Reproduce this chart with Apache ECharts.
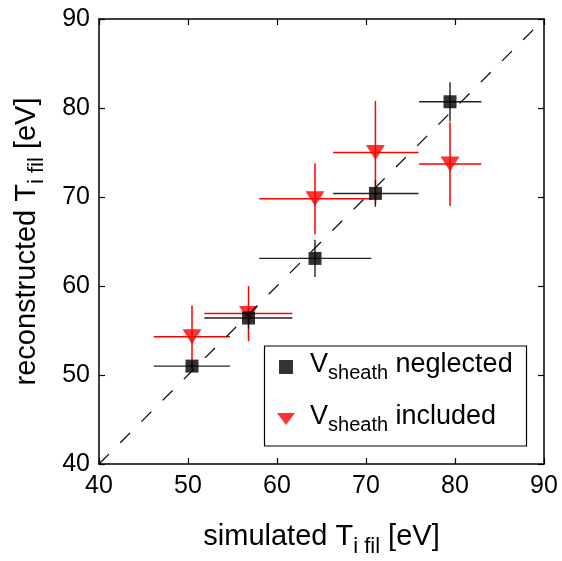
<!DOCTYPE html>
<html><head><meta charset="utf-8">
<script src="https://cdn.jsdelivr.net/npm/echarts@6/dist/echarts.min.js"></script>
<style>html,body{margin:0;padding:0;background:#fff}#c{width:562px;height:561px}</style>
</head><body><div id="c"></div>
<script>
// simulated T_i fil (x) with horizontal error range
const simT     = [50.45, 56.8, 64.27, 71.06, 79.44];
const simTLow  = [46.15, 51.84, 58.0, 66.3, 75.96];
const simTHigh = [54.72, 61.73, 70.6, 75.9, 82.96];
// reconstructed, V_sheath neglected
const neglectedT   = [51.0, 56.4, 63.1, 70.4, 80.7];
const neglectedErr = [0.4, 1.2, 2.1, 1.5, 2.2];
// reconstructed, V_sheath included
const includedT   = [54.3, 56.9, 69.8, 75.0, 73.7];
const includedErr = [3.5, 3.1, 4.0, 5.8, 4.7];
// axes
const axisMin = 40, axisMax = 90, axisStep = 10;
const diagonal = [[40, 40], [90, 90]];

const FONT = "'Liberation Sans', Arial, Helvetica, sans-serif";

function errData(ys, errs) {
  return simT.map((x, i) => [x, ys[i], simTLow[i], simTHigh[i], ys[i] - errs[i], ys[i] + errs[i]]);
}
function errRender(color, width) {
  return function (params, api) {
    const x = api.value(0), y = api.value(1);
    const p1 = api.coord([api.value(2), y]), p2 = api.coord([api.value(3), y]);
    const p3 = api.coord([x, api.value(4)]), p4 = api.coord([x, api.value(5)]);
    const style = { stroke: color, lineWidth: width };
    return { type: 'group', children: [
      { type: 'line', shape: { x1: p1[0], y1: p1[1], x2: p2[0], y2: p2[1] }, style: style },
      { type: 'line', shape: { x1: p3[0], y1: p3[1], x2: p4[0], y2: p4[1] }, style: style }
    ]};
  };
}
const TRI = 'path://M0,0L20,0L10,16Z';
const SQR = 'path://M0,0L10,0L10,10L0,10Z';
const LEG_SQR = 'path://M0,0M18,14M2,0L16,0L16,14L2,14Z';
const LEG_TRI = 'path://M0,0M18,14M0,1L18,1L9,13Z';

const richNameX = {
  a: { fontSize: 29, fontFamily: FONT, color: '#000', lineHeight: 36, verticalAlign: 'top' },
  b: { fontSize: 22, fontFamily: FONT, color: '#000', lineHeight: 22, padding: [31, 0, 0, 0], verticalAlign: 'bottom' }
};
const richNameY = {
  a: { fontSize: 29, fontFamily: FONT, color: '#000', lineHeight: 36, verticalAlign: 'top' },
  b: { fontSize: 22, fontFamily: FONT, color: '#000', lineHeight: 22, padding: [26, 0, 0, 0], verticalAlign: 'bottom' }
};
const richLegend = {
  g: { width: 10, fontSize: 12 },
  v: { fontSize: 27, fontFamily: FONT, color: '#000', lineHeight: 32, verticalAlign: 'top' },
  s: { fontSize: 20, fontFamily: FONT, color: '#000', lineHeight: 18, padding: [22, 0, 0, 0], verticalAlign: 'bottom' },
  n: { fontSize: 27, fontFamily: FONT, color: '#000', lineHeight: 32, verticalAlign: 'top' }
};

function mkAxis(pos, showLabel, extra) {
  return Object.assign({
    type: 'value', position: pos, min: axisMin, max: axisMax, interval: axisStep,
    axisLine: { show: true, onZero: false, lineStyle: { color: '#000', width: 1.5 } },
    axisTick: { show: true, inside: true, length: 6, lineStyle: { color: '#000', width: 1.2 } },
    axisLabel: { show: showLabel, fontSize: 25, fontFamily: FONT, color: '#000' },
    splitLine: { show: false }
  }, extra || {});
}

const chart = echarts.init(document.getElementById('c'), null, { renderer: 'canvas' });
chart.setOption({
  animation: false,
  backgroundColor: '#fff',
  grid: { left: 99, right: 18, top: 19, bottom: 97, containLabel: false, outerBoundsMode: 'none' },
  xAxis: [
    mkAxis('bottom', true, {
      name: '{a|simulated T}{b|i fil}{a| [eV]}', nameLocation: 'middle', nameGap: 58,
      nameTextStyle: { rich: richNameX }, axisLabel: { show: true, fontSize: 25, fontFamily: FONT, color: '#000', margin: 10 }
    }),
    mkAxis('top', false)
  ],
  yAxis: [
    mkAxis('left', true, {
      name: '{a|reconstructed T}{b|i fil}{a| [eV]}', nameLocation: 'middle', nameGap: 51,
      nameTextStyle: { rich: richNameY }, axisLabel: { show: true, fontSize: 25, fontFamily: FONT, color: '#000', margin: 9 }
    }),
    mkAxis('right', false)
  ],
  graphic: {
    elements: [{
      type: 'rect', z: 3, silent: true,
      shape: { x: 264.5, y: 346, width: 262, height: 100 },
      style: { fill: '#fff', stroke: '#000', lineWidth: 1.2 }
    }]
  },
  legend: {
    data: [{ name: 'neglected', icon: LEG_SQR }, { name: 'included', icon: LEG_TRI }],
    orient: 'vertical', left: 264, top: 339, z: 5,
    itemWidth: 18, itemHeight: 14, itemGap: 10,
    symbolKeepAspect: true,
    padding: [2, 14, 12, 13],
    formatter: function (n) { return '{g| }{v|V}{s|sheath}{n| ' + n + '}'; },
    textStyle: { rich: richLegend }
  },
  series: [
    { type: 'line', data: diagonal, symbol: 'none', silent: true,
      lineStyle: { color: '#000', width: 1.2, type: [14, 16] } },
    { type: 'custom', name: 'incErr', renderItem: errRender('#ff0000', 1.5), data: errData(includedT, includedErr), silent: true },
    { type: 'scatter', name: 'included', symbol: TRI, symbolSize: [19, 15], itemStyle: { color: '#ff0000' },
      data: simT.map((x, i) => [x, includedT[i]]) },
    { type: 'custom', name: 'negErr', renderItem: errRender('#222', 1.4), data: errData(neglectedT, neglectedErr), silent: true },
    { type: 'scatter', name: 'neglected', symbol: SQR, symbolSize: 13, itemStyle: { color: '#000' },
      data: simT.map((x, i) => [x, neglectedT[i]]) }
  ]
});
</script></body></html>
